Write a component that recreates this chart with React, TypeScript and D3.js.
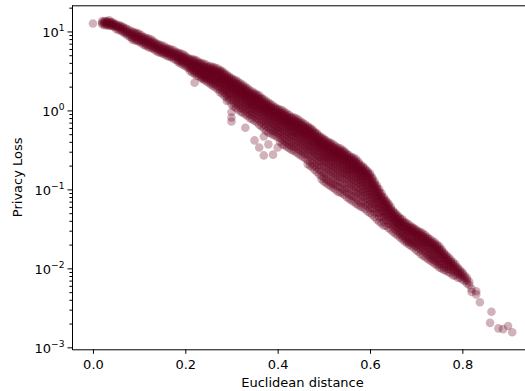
import * as d3 from 'd3';
import { useRef, useEffect } from 'react';

// Euclidean distance of each column of points
const distance = [
  0.0, 0.02, 0.03, 0.04, 0.05, 0.06, 0.07, 0.08, 0.09, 0.1,
  0.11, 0.12, 0.13, 0.14, 0.15, 0.16, 0.17, 0.18, 0.19, 0.2,
  0.21, 0.22, 0.23, 0.24, 0.25, 0.26, 0.27, 0.28, 0.29, 0.3,
  0.31, 0.32, 0.33, 0.34, 0.35, 0.36, 0.37, 0.38, 0.39, 0.4,
  0.41, 0.42, 0.43, 0.44, 0.45, 0.46, 0.47, 0.48, 0.49, 0.5,
  0.51, 0.52, 0.53, 0.54, 0.55, 0.56, 0.57, 0.58, 0.59, 0.6,
  0.61, 0.62, 0.63, 0.64, 0.65, 0.66, 0.67, 0.68, 0.69, 0.7,
  0.71, 0.72, 0.73, 0.74, 0.75, 0.76, 0.77, 0.78, 0.79, 0.8,
  0.81, 0.82, 0.83,
];

// log10(privacy loss) of the points in each column
const lossExp: number[][] = [
  [1.1],
  [1.13, 1.11, 1.09],
  [1.13, 1.12, 1.11, 1.09, 1.08],
  [1.12, 1.11, 1.09, 1.08, 1.07],
  [1.09, 1.07, 1.06, 1.03],
  [1.07, 1.06, 1.03, 1.01],
  [1.04, 1.02, 0.99, 0.97],
  [1.01, 0.98, 0.96, 0.93],
  [0.99, 0.97, 0.94, 0.92, 0.89],
  [0.97, 0.94, 0.92, 0.89, 0.87],
  [0.93, 0.91, 0.88, 0.86, 0.83],
  [0.91, 0.88, 0.86, 0.83, 0.8],
  [0.88, 0.86, 0.83, 0.8, 0.78],
  [0.84, 0.82, 0.79, 0.77, 0.74],
  [0.82, 0.79, 0.77, 0.74, 0.72],
  [0.79, 0.77, 0.74, 0.72, 0.69],
  [0.77, 0.74, 0.72, 0.69, 0.67],
  [0.74, 0.72, 0.69, 0.67, 0.64],
  [0.72, 0.69, 0.67, 0.64, 0.62, 0.59],
  [0.69, 0.67, 0.64, 0.62, 0.59, 0.56],
  [0.65, 0.63, 0.6, 0.58, 0.55, 0.53, 0.5],
  [0.64, 0.62, 0.59, 0.56, 0.54, 0.51, 0.49, 0.46, 0.35],
  [0.61, 0.59, 0.56, 0.54, 0.51, 0.49, 0.46, 0.43],
  [0.59, 0.56, 0.54, 0.51, 0.49, 0.46, 0.44, 0.41, 0.39],
  [0.56, 0.54, 0.51, 0.49, 0.46, 0.44, 0.41, 0.39, 0.35],
  [0.55, 0.53, 0.5, 0.48, 0.45, 0.43, 0.4, 0.38, 0.34, 0.31],
  [0.53, 0.5, 0.48, 0.45, 0.43, 0.4, 0.38, 0.35, 0.31, 0.27],
  [0.5, 0.48, 0.45, 0.43, 0.4, 0.38, 0.35, 0.33, 0.29, 0.25, 0.21],
  [0.45, 0.43, 0.4, 0.38, 0.35, 0.33, 0.3, 0.27, 0.24, 0.2, 0.16, 0.12],
  [0.41, 0.39, 0.36, 0.34, 0.31, 0.29, 0.26, 0.22, 0.19, 0.14, 0.08, -0.02, -0.09, -0.14],
  [0.38, 0.35, 0.33, 0.3, 0.27, 0.25, 0.22, 0.2, 0.16, 0.12, 0.08, 0.03],
  [0.34, 0.31, 0.29, 0.26, 0.24, 0.21, 0.19, 0.16, 0.12, 0.08, 0.03, -0.02],
  [0.3, 0.27, 0.25, 0.22, 0.2, 0.17, 0.15, 0.12, 0.08, 0.05, 0.0, -0.05, -0.22],
  [0.25, 0.22, 0.2, 0.17, 0.15, 0.12, 0.1, 0.07, 0.03, 0.0, -0.05, -0.1],
  [0.22, 0.2, 0.17, 0.15, 0.12, 0.1, 0.07, 0.05, 0.01, -0.03, -0.08, -0.13, -0.38],
  [0.19, 0.16, 0.14, 0.11, 0.08, 0.06, 0.03, 0.01, -0.03, -0.07, -0.12, -0.18, -0.47],
  [0.14, 0.11, 0.08, 0.06, 0.03, 0.01, -0.02, -0.05, -0.09, -0.13, -0.18, -0.23, -0.33, -0.57],
  [0.1, 0.07, 0.05, 0.02, 0.0, -0.03, -0.05, -0.09, -0.13, -0.17, -0.22, -0.28, -0.43],
  [0.06, 0.03, 0.01, -0.02, -0.04, -0.07, -0.09, -0.13, -0.17, -0.21, -0.26, -0.31, -0.56],
  [0.02, 0.0, -0.03, -0.05, -0.08, -0.1, -0.13, -0.17, -0.21, -0.24, -0.29, -0.34, -0.47],
  [0.0, -0.03, -0.05, -0.08, -0.1, -0.13, -0.15, -0.19, -0.23, -0.27, -0.32, -0.37, -0.43],
  [-0.04, -0.07, -0.09, -0.12, -0.14, -0.17, -0.19, -0.23, -0.27, -0.31, -0.36, -0.41, -0.46],
  [-0.08, -0.1, -0.13, -0.15, -0.18, -0.21, -0.23, -0.27, -0.31, -0.34, -0.4, -0.45, -0.5],
  [-0.1, -0.13, -0.15, -0.18, -0.21, -0.23, -0.26, -0.29, -0.33, -0.37, -0.42, -0.47, -0.53],
  [-0.14, -0.17, -0.19, -0.22, -0.24, -0.27, -0.29, -0.33, -0.37, -0.41, -0.46, -0.51, -0.57],
  [-0.18, -0.21, -0.23, -0.26, -0.28, -0.31, -0.33, -0.37, -0.41, -0.45, -0.5, -0.55, -0.61],
  [-0.22, -0.24, -0.27, -0.29, -0.32, -0.34, -0.37, -0.41, -0.45, -0.48, -0.53, -0.58, -0.65, -0.7],
  [-0.27, -0.29, -0.32, -0.34, -0.37, -0.4, -0.42, -0.46, -0.5, -0.53, -0.58, -0.63, -0.7, -0.75],
  [-0.32, -0.34, -0.37, -0.4, -0.42, -0.45, -0.47, -0.51, -0.55, -0.59, -0.64, -0.69, -0.75, -0.81],
  [-0.36, -0.38, -0.41, -0.43, -0.46, -0.48, -0.51, -0.55, -0.59, -0.62, -0.67, -0.72, -0.79, -0.85, -0.9],
  [-0.4, -0.42, -0.45, -0.47, -0.5, -0.52, -0.55, -0.59, -0.62, -0.66, -0.71, -0.76, -0.82, -0.89, -0.94],
  [-0.43, -0.46, -0.48, -0.51, -0.53, -0.56, -0.59, -0.62, -0.66, -0.7, -0.75, -0.8, -0.86, -0.93, -0.98],
  [-0.47, -0.5, -0.52, -0.55, -0.57, -0.6, -0.62, -0.66, -0.7, -0.74, -0.79, -0.84, -0.9, -0.96, -1.03],
  [-0.5, -0.52, -0.55, -0.57, -0.6, -0.62, -0.65, -0.69, -0.72, -0.76, -0.81, -0.86, -0.93, -0.99, -1.05],
  [-0.55, -0.57, -0.6, -0.62, -0.65, -0.67, -0.7, -0.74, -0.77, -0.81, -0.86, -0.91, -0.98, -1.04, -1.1],
  [-0.59, -0.61, -0.64, -0.66, -0.69, -0.71, -0.74, -0.77, -0.81, -0.85, -0.9, -0.95, -1.01, -1.08, -1.14],
  [-0.62, -0.65, -0.67, -0.7, -0.72, -0.75, -0.77, -0.81, -0.85, -0.89, -0.94, -0.99, -1.05, -1.11, -1.18],
  [-0.69, -0.71, -0.74, -0.76, -0.79, -0.81, -0.84, -0.88, -0.91, -0.95, -1.0, -1.05, -1.1, -1.17, -1.22],
  [-0.74, -0.76, -0.79, -0.81, -0.84, -0.88, -0.91, -0.95, -0.99, -1.03, -1.08, -1.13, -1.19, -1.25],
  [-0.8, -0.82, -0.85, -0.88, -0.9, -0.94, -0.98, -1.01, -1.05, -1.09, -1.14, -1.19, -1.24, -1.3],
  [-0.9, -0.93, -0.95, -0.98, -1.0, -1.04, -1.08, -1.11, -1.15, -1.19, -1.24, -1.29, -1.35],
  [-1.0, -1.03, -1.05, -1.08, -1.1, -1.14, -1.18, -1.22, -1.25, -1.3, -1.35, -1.41],
  [-1.1, -1.13, -1.15, -1.18, -1.2, -1.24, -1.28, -1.32, -1.35, -1.41, -1.46],
  [-1.18, -1.2, -1.23, -1.25, -1.28, -1.32, -1.35, -1.39, -1.43, -1.49],
  [-1.27, -1.29, -1.32, -1.34, -1.37, -1.41, -1.44, -1.48, -1.54],
  [-1.33, -1.35, -1.38, -1.41, -1.43, -1.46, -1.49, -1.53, -1.58],
  [-1.38, -1.41, -1.43, -1.46, -1.48, -1.52, -1.56, -1.59, -1.63],
  [-1.43, -1.46, -1.48, -1.51, -1.53, -1.57, -1.61, -1.65, -1.68],
  [-1.47, -1.49, -1.52, -1.54, -1.57, -1.61, -1.65, -1.68, -1.72],
  [-1.51, -1.53, -1.56, -1.58, -1.61, -1.65, -1.68, -1.72, -1.77],
  [-1.54, -1.57, -1.59, -1.62, -1.65, -1.68, -1.72, -1.76, -1.82],
  [-1.58, -1.61, -1.63, -1.66, -1.68, -1.72, -1.76, -1.8, -1.86],
  [-1.63, -1.66, -1.68, -1.71, -1.75, -1.78, -1.82, -1.86, -1.9],
  [-1.67, -1.7, -1.72, -1.75, -1.78, -1.82, -1.86, -1.9, -1.94],
  [-1.72, -1.75, -1.77, -1.8, -1.83, -1.87, -1.91, -1.95, -1.99],
  [-1.8, -1.82, -1.85, -1.87, -1.91, -1.95, -1.99, -2.02],
  [-1.86, -1.89, -1.91, -1.94, -1.97, -2.01, -2.05],
  [-1.92, -1.95, -1.97, -2.0, -2.04, -2.09],
  [-1.99, -2.01, -2.04, -2.07, -2.12],
  [-2.05, -2.07, -2.1, -2.14],
  [-2.12, -2.15, -2.19],
  [-2.26, -2.3],
  [-2.29, -2.33],
];

// points lying between the columns above
const distanceMid = [
  0.025, 0.035, 0.045, 0.055, 0.065, 0.075, 0.085, 0.095, 0.105, 0.115,
  0.125, 0.135, 0.145, 0.155, 0.165, 0.175, 0.185, 0.195, 0.205, 0.215,
  0.225, 0.235, 0.245, 0.255, 0.265, 0.275, 0.285, 0.295, 0.305, 0.315,
  0.325, 0.335, 0.345, 0.355, 0.365, 0.375, 0.385, 0.395, 0.405, 0.415,
  0.425, 0.435, 0.445, 0.455, 0.465, 0.475, 0.485, 0.495, 0.505, 0.515,
  0.525, 0.535, 0.545, 0.555, 0.565, 0.575, 0.585, 0.595, 0.605, 0.615,
  0.625, 0.635, 0.645, 0.655, 0.665, 0.675, 0.685, 0.695, 0.705, 0.715,
  0.725, 0.735, 0.745, 0.755, 0.765, 0.775, 0.785, 0.795, 0.805, 0.815,
];

const lossExpMid: number[][] = [
  [1.13, 1.12, 1.1, 1.08],
  [1.14, 1.12, 1.1, 1.09, 1.07],
  [1.11, 1.09, 1.08, 1.06],
  [1.08, 1.06, 1.05, 1.02],
  [1.06, 1.04, 1.01, 0.99],
  [1.03, 1.0, 0.98, 0.95],
  [1.0, 0.98, 0.95, 0.92, 0.9],
  [0.98, 0.96, 0.93, 0.9, 0.88],
  [0.95, 0.93, 0.9, 0.88, 0.85],
  [0.92, 0.9, 0.87, 0.84, 0.82],
  [0.9, 0.87, 0.85, 0.82, 0.79],
  [0.86, 0.84, 0.81, 0.79, 0.76],
  [0.83, 0.81, 0.78, 0.76, 0.73],
  [0.81, 0.78, 0.76, 0.73, 0.71],
  [0.78, 0.76, 0.73, 0.71, 0.68],
  [0.76, 0.73, 0.71, 0.68, 0.65],
  [0.73, 0.71, 0.68, 0.66, 0.63, 0.61],
  [0.71, 0.68, 0.66, 0.63, 0.61, 0.58],
  [0.67, 0.65, 0.62, 0.6, 0.57, 0.54],
  [0.65, 0.63, 0.6, 0.57, 0.55, 0.52, 0.48],
  [0.63, 0.6, 0.58, 0.55, 0.53, 0.5, 0.47, 0.44],
  [0.6, 0.58, 0.55, 0.53, 0.5, 0.47, 0.45, 0.42, 0.4],
  [0.58, 0.55, 0.53, 0.5, 0.48, 0.45, 0.42, 0.4, 0.37],
  [0.56, 0.53, 0.51, 0.49, 0.46, 0.44, 0.41, 0.39, 0.36, 0.33],
  [0.54, 0.51, 0.49, 0.46, 0.44, 0.41, 0.39, 0.36, 0.33, 0.29],
  [0.51, 0.49, 0.47, 0.44, 0.41, 0.39, 0.36, 0.34, 0.3, 0.27, 0.23],
  [0.47, 0.45, 0.42, 0.4, 0.37, 0.35, 0.32, 0.29, 0.26, 0.22, 0.18],
  [0.43, 0.41, 0.38, 0.36, 0.33, 0.31, 0.28, 0.25, 0.21, 0.17, 0.13],
  [0.39, 0.37, 0.34, 0.32, 0.29, 0.27, 0.24, 0.21, 0.18, 0.14, 0.1, 0.05],
  [0.36, 0.33, 0.31, 0.28, 0.26, 0.23, 0.21, 0.18, 0.14, 0.1, 0.06, 0.01],
  [0.32, 0.29, 0.27, 0.24, 0.22, 0.19, 0.17, 0.14, 0.1, 0.06, 0.02, -0.03],
  [0.28, 0.25, 0.23, 0.2, 0.18, 0.15, 0.12, 0.09, 0.06, 0.02, -0.03, -0.07],
  [0.24, 0.21, 0.19, 0.16, 0.14, 0.11, 0.08, 0.06, 0.02, -0.02, -0.06, -0.11],
  [0.2, 0.18, 0.15, 0.13, 0.1, 0.08, 0.05, 0.02, -0.01, -0.05, -0.1, -0.15],
  [0.16, 0.14, 0.11, 0.09, 0.06, 0.04, 0.01, -0.02, -0.06, -0.1, -0.15, -0.2],
  [0.12, 0.09, 0.07, 0.04, 0.02, -0.01, -0.03, -0.07, -0.11, -0.15, -0.2, -0.26],
  [0.08, 0.05, 0.03, 0.0, -0.02, -0.05, -0.07, -0.11, -0.15, -0.19, -0.24, -0.29],
  [0.04, 0.02, -0.01, -0.03, -0.06, -0.08, -0.11, -0.15, -0.19, -0.23, -0.27, -0.32],
  [0.01, -0.02, -0.04, -0.07, -0.09, -0.12, -0.14, -0.18, -0.22, -0.26, -0.3, -0.35, -0.4],
  [-0.02, -0.05, -0.07, -0.1, -0.12, -0.15, -0.17, -0.21, -0.25, -0.29, -0.34, -0.39, -0.44],
  [-0.06, -0.09, -0.11, -0.14, -0.16, -0.19, -0.21, -0.25, -0.29, -0.33, -0.38, -0.43, -0.48],
  [-0.09, -0.12, -0.14, -0.17, -0.19, -0.22, -0.25, -0.28, -0.32, -0.36, -0.41, -0.46, -0.51],
  [-0.12, -0.15, -0.17, -0.2, -0.22, -0.25, -0.28, -0.31, -0.35, -0.39, -0.44, -0.49, -0.55],
  [-0.16, -0.19, -0.21, -0.24, -0.26, -0.29, -0.31, -0.35, -0.39, -0.43, -0.48, -0.53, -0.59],
  [-0.2, -0.22, -0.25, -0.27, -0.3, -0.32, -0.35, -0.39, -0.43, -0.46, -0.51, -0.56, -0.63, -0.68],
  [-0.24, -0.26, -0.29, -0.31, -0.34, -0.37, -0.39, -0.43, -0.47, -0.51, -0.56, -0.61, -0.67, -0.72],
  [-0.29, -0.31, -0.34, -0.37, -0.39, -0.42, -0.44, -0.48, -0.52, -0.56, -0.61, -0.66, -0.72, -0.78],
  [-0.34, -0.36, -0.39, -0.41, -0.44, -0.46, -0.49, -0.53, -0.57, -0.6, -0.65, -0.7, -0.77, -0.83, -0.87],
  [-0.38, -0.4, -0.43, -0.45, -0.48, -0.5, -0.53, -0.57, -0.6, -0.64, -0.69, -0.74, -0.8, -0.87, -0.92],
  [-0.41, -0.44, -0.46, -0.49, -0.51, -0.54, -0.57, -0.6, -0.64, -0.68, -0.73, -0.78, -0.84, -0.91, -0.96],
  [-0.45, -0.48, -0.5, -0.53, -0.55, -0.58, -0.6, -0.64, -0.68, -0.72, -0.77, -0.82, -0.88, -0.94, -1.0],
  [-0.48, -0.51, -0.53, -0.56, -0.58, -0.61, -0.63, -0.67, -0.71, -0.75, -0.8, -0.85, -0.91, -0.97, -1.04],
  [-0.52, -0.54, -0.57, -0.59, -0.62, -0.64, -0.67, -0.71, -0.75, -0.79, -0.83, -0.88, -0.95, -1.01, -1.07],
  [-0.57, -0.59, -0.62, -0.64, -0.67, -0.69, -0.72, -0.75, -0.79, -0.83, -0.88, -0.93, -0.99, -1.06, -1.12],
  [-0.6, -0.63, -0.65, -0.68, -0.7, -0.73, -0.75, -0.79, -0.83, -0.87, -0.92, -0.97, -1.03, -1.09, -1.16],
  [-0.65, -0.68, -0.7, -0.73, -0.75, -0.78, -0.8, -0.84, -0.88, -0.92, -0.97, -1.02, -1.07, -1.14, -1.2],
  [-0.71, -0.73, -0.76, -0.78, -0.81, -0.84, -0.87, -0.91, -0.95, -0.99, -1.04, -1.09, -1.15, -1.23],
  [-0.77, -0.79, -0.82, -0.84, -0.87, -0.91, -0.94, -0.98, -1.02, -1.06, -1.11, -1.16, -1.21, -1.28],
  [-0.85, -0.87, -0.9, -0.93, -0.95, -0.99, -1.03, -1.06, -1.1, -1.14, -1.19, -1.24, -1.32],
  [-0.95, -0.98, -1.0, -1.03, -1.05, -1.09, -1.13, -1.16, -1.2, -1.25, -1.3, -1.38],
  [-1.05, -1.08, -1.1, -1.13, -1.15, -1.19, -1.23, -1.27, -1.3, -1.36, -1.43],
  [-1.14, -1.16, -1.19, -1.21, -1.24, -1.28, -1.31, -1.35, -1.39, -1.46],
  [-1.22, -1.25, -1.27, -1.3, -1.32, -1.36, -1.4, -1.44, -1.51],
  [-1.3, -1.32, -1.35, -1.37, -1.4, -1.43, -1.47, -1.51, -1.56],
  [-1.36, -1.38, -1.41, -1.43, -1.46, -1.49, -1.53, -1.56, -1.61],
  [-1.41, -1.43, -1.46, -1.48, -1.51, -1.55, -1.59, -1.62, -1.66],
  [-1.45, -1.48, -1.5, -1.53, -1.55, -1.59, -1.63, -1.67, -1.7],
  [-1.49, -1.51, -1.54, -1.56, -1.59, -1.63, -1.67, -1.7, -1.74],
  [-1.53, -1.55, -1.58, -1.6, -1.63, -1.67, -1.7, -1.74, -1.79],
  [-1.56, -1.59, -1.61, -1.64, -1.67, -1.7, -1.74, -1.78, -1.84],
  [-1.61, -1.63, -1.66, -1.68, -1.71, -1.75, -1.79, -1.83, -1.88],
  [-1.65, -1.68, -1.7, -1.73, -1.76, -1.8, -1.84, -1.88, -1.92],
  [-1.7, -1.72, -1.75, -1.77, -1.81, -1.84, -1.88, -1.92, -1.96],
  [-1.76, -1.78, -1.81, -1.83, -1.87, -1.91, -1.95, -2.0],
  [-1.83, -1.85, -1.88, -1.9, -1.94, -1.98, -2.03],
  [-1.89, -1.92, -1.94, -1.97, -2.01, -2.06],
  [-1.95, -1.98, -2.01, -2.04, -2.09],
  [-2.02, -2.05, -2.08, -2.12],
  [-2.09, -2.12, -2.16],
  [-2.17, -2.21],
];

// the loose points at the far end
const tailDistance = [0.838, 0.86, 0.863, 0.878, 0.888, 0.899, 0.908];
const tailExp = [-2.43, -2.69, -2.55, -2.76, -2.77, -2.73, -2.81];

const xTicks = [0, 0.2, 0.4, 0.6, 0.8];
const yTickExps = [-3, -2, -1, 0, 1];

const width = 525;
const height = 391;
const plot = { left: 72, right: 533, top: 5.3, bottom: 349.3 };
const font = '"DejaVu Sans", sans-serif';

export default function App() {
  const ref = useRef<SVGSVGElement>(null);

  useEffect(() => {
    if (!ref.current) return;
    const svg = d3.select(ref.current);
    svg.selectAll('*').remove();

    const x = d3.scaleLinear().domain([-0.0454, 0.953]).range([plot.left, plot.right]);
    const y = d3.scaleLog().domain([10 ** -3.025, 10 ** 1.331]).range([plot.bottom, plot.top]);

    const points: [number, number][] = [];
    distance.forEach((d, i) => lossExp[i].forEach(e => points.push([d, 10 ** e])));
    distanceMid.forEach((d, i) => lossExpMid[i].forEach(e => points.push([d, 10 ** e])));
    tailDistance.forEach((d, i) => points.push([d, 10 ** tailExp[i]]));

    svg.append('g')
      .selectAll('circle')
      .data(points)
      .join('circle')
        .attr('cx', d => x(d[0]))
        .attr('cy', d => y(d[1]))
        .attr('r', 4.3)
        .attr('fill', '#67001f')
        .attr('fill-opacity', 0.3);

    // x axis
    const gx = svg.append('g')
      .attr('transform', `translate(0,${plot.bottom})`)
      .call(d3.axisBottom(x).tickValues(xTicks).tickFormat(d3.format('.1f')).tickSize(4.5).tickSizeOuter(0).tickPadding(6));
    gx.selectAll('text').attr('font-size', 13).attr('font-family', font).attr('fill', '#000');

    // y axis, minor ticks first
    const minors: number[] = [];
    for (let e = -3; e <= 1; e++) for (let m = 2; m <= 9; m++) {
      const v = m * 10 ** e;
      if (v <= y.domain()[1]) minors.push(v);
    }
    svg.append('g')
      .attr('transform', `translate(${plot.left},0)`)
      .call(d3.axisLeft(y).tickValues(minors).tickFormat(() => '').tickSize(2.6).tickSizeOuter(0));

    const gy = svg.append('g')
      .attr('transform', `translate(${plot.left},0)`)
      .call(d3.axisLeft(y).tickValues(yTickExps.map(e => 10 ** e)).tickFormat(() => '').tickSize(4.5).tickSizeOuter(0));
    gy.selectAll('.tick text').remove();

    const labels = svg.append('g')
      .attr('font-family', font)
      .attr('font-size', 13)
      .attr('text-anchor', 'end')
      .selectAll('text')
      .data(yTickExps)
      .join('text')
        .attr('x', plot.left - 7.5)
        .attr('y', d => y(10 ** d) + 5.5);
    labels.append('tspan').text('10');
    labels.append('tspan')
      .attr('font-size', 9.1)
      .attr('dy', -6)
      .text(d => (d < 0 ? '\u2212' + Math.abs(d) : String(d)));

    // top spine
    svg.append('line')
      .attr('x1', plot.left).attr('x2', plot.right)
      .attr('y1', plot.top + 0.5).attr('y2', plot.top + 0.5)
      .attr('stroke', '#000');

    svg.selectAll('.domain, .tick line').attr('stroke', '#000');

    svg.append('text')
      .attr('x', (plot.left + plot.right) / 2)
      .attr('y', 387)
      .attr('text-anchor', 'middle')
      .attr('font-family', font)
      .attr('font-size', 13)
      .text('Euclidean distance');

    svg.append('text')
      .attr('transform', `translate(22,${(plot.top + plot.bottom) / 2}) rotate(-90)`)
      .attr('text-anchor', 'middle')
      .attr('font-family', font)
      .attr('font-size', 13)
      .text('Privacy Loss');
  }, []);

  return (
    <svg
      ref={ref}
      width={width}
      height={height}
      style={{ position: 'absolute', left: 0, top: 0, background: '#fff' }}
    />
  );
}
